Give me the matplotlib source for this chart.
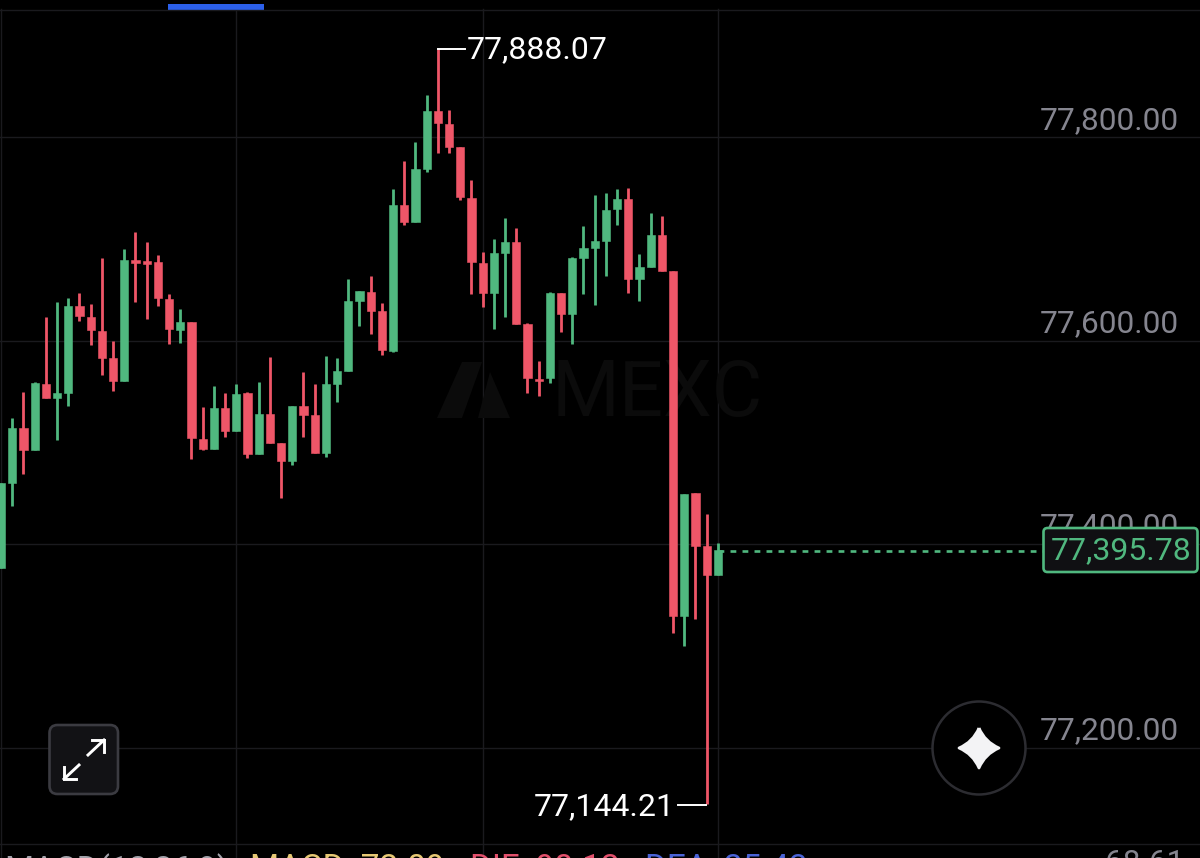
import matplotlib
matplotlib.use('Agg')
import matplotlib.pyplot as plt
from matplotlib.patches import FancyBboxPatch, Circle, PathPatch, Rectangle, Polygon
from matplotlib.path import Path

plt.rcParams['font.family'] = ['Roboto', 'DejaVu Sans']

opens = [77376.4, 77460.6, 77514.6, 77492.7, 77557.6, 77544.1, 77549.1, 77634.3, 77623.8, 77610.0,
	77582.9, 77560.6, 77679.2, 77678.9, 77677.9, 77641.2, 77611.0, 77618.9, 77503.8, 77493.7,
	77534.0, 77511.7, 77549.1, 77489.1, 77528.4, 77499.6, 77481.6, 77536.0, 77527.1, 77489.5,
	77557.9, 77570.1, 77639.5, 77648.4, 77629.7, 77590.4, 77733.6, 77717.2, 77768.7, 77826.3,
	77813.6, 77790.4, 77740.8, 77676.9, 77646.8, 77686.7, 77697.2, 77616.3, 77562.5, 77563.2,
	77646.8, 77626.2, 77681.5, 77691.0, 77698.2, 77729.4, 77739.5, 77661.2, 77673.0, 77704.1,
	77669.0, 77329.5, 77450.1, 77398.0, 77369.8]
highs = [77460.0, 77523.9, 77549.4, 77559.3, 77623.8, 77638.5, 77642.5, 77647.4, 77636.3, 77681.8,
	77599.9, 77690.4, 77706.8, 77697.5, 77684.5, 77646.1, 77631.7, 77618.9, 77535.3, 77555.6,
	77548.8, 77557.6, 77549.7, 77559.6, 77583.9, 77499.6, 77536.3, 77569.4, 77557.6, 77585.1,
	77583.5, 77660.9, 77649.1, 77664.1, 77637.6, 77749.7, 77776.9, 77795.3, 77842.1, 77888.07,
	77827.0, 77790.4, 77757.9, 77687.7, 77700.5, 77721.1, 77710.7, 77617.9, 77579.9, 77647.8,
	77647.1, 77682.0, 77713.0, 77743.8, 77745.7, 77749.4, 77750.0, 77685.1, 77725.5, 77723.1,
	77669.0, 77449.7, 77450.4, 77430.1, 77401.6]
lows = [77376.4, 77437.9, 77469.1, 77492.7, 77544.1, 77502.5, 77536.0, 77619.6, 77596.3, 77566.8,
	77550.7, 77560.6, 77638.2, 77621.2, 77634.0, 77597.2, 77597.9, 77483.9, 77492.7, 77493.7,
	77505.8, 77511.7, 77485.1, 77489.1, 77499.6, 77445.8, 77477.7, 77505.2, 77489.5, 77485.5,
	77540.2, 77570.1, 77614.3, 77606.8, 77585.8, 77589.4, 77714.3, 77717.2, 77766.4, 77785.0,
	77784.5, 77738.5, 77645.8, 77633.6, 77611.4, 77623.8, 77616.6, 77548.5, 77545.8, 77558.9,
	77608.4, 77596.6, 77645.8, 77635.6, 77664.1, 77714.0, 77647.4, 77638.9, 77673.0, 77669.0,
	77313.1, 77300.0, 77326.5, 77144.21, 77369.8]
closes = [77460.0, 77514.6, 77492.7, 77558.3, 77544.1, 77548.8, 77634.3, 77624.5, 77610.4, 77583.2,
	77560.6, 77679.2, 77676.3, 77675.9, 77641.9, 77611.7, 77618.6, 77504.2, 77493.4, 77534.0,
	77511.4, 77548.1, 77488.8, 77528.4, 77499.6, 77482.2, 77536.3, 77526.8, 77489.5, 77557.6,
	77570.1, 77639.5, 77648.8, 77629.7, 77590.8, 77733.6, 77716.6, 77768.7, 77826.3, 77814.0,
	77790.4, 77741.2, 77677.3, 77646.8, 77686.1, 77697.2, 77616.6, 77563.2, 77560.6, 77646.8,
	77626.2, 77681.5, 77691.0, 77698.2, 77729.0, 77739.5, 77661.2, 77673.0, 77704.1, 77669.0,
	77329.5, 77449.7, 77398.6, 77370.1, 77394.4]

price_ticks = [77800, 77600, 77400, 77200]
grid_candles = [0, 21, 43, 64]
high_label = '77,888.07'
low_label = '77,144.21'
last_label = '77,395.78'

GREEN = '#50b87f'
RED = '#ef5668'
GRID = '#1a1a1e'
GRAY = '#85858f'

fig = plt.figure(figsize=(12, 8.58), dpi=100, facecolor='black')
ax = fig.add_axes([0, 0, 1, 1], facecolor='black')
ax.set_xlim(-0.098, 107.05)
ax.set_ylim(77091.5, 77935.2)
ax.axis('off')

# grid
for p in price_ticks:
	ax.axhline(p, color=GRID, lw=1, zorder=1)
for c in grid_candles:
	ax.axvline(c, ymax=0.9895, color=GRID, lw=1, zorder=1)

# watermark
ax.text(58.6, 77547, 'MEXC', color='#0b0b0b', fontsize=56, ha='center', va='center', zorder=1)

# price labels
for p in price_ticks:
	ax.text(105.2, p + 17, f'{p:,.2f}', color=GRAY, fontsize=22.8, ha='right', va='center', zorder=2)

# candles
for i in range(len(opens)):
	col = GREEN if closes[i] >= opens[i] else RED
	ax.vlines(i, lows[i], highs[i], color=col, lw=2.0, zorder=3)
	ax.bar(i, closes[i] - opens[i], bottom=opens[i], width=0.74, color=col, edgecolor=col, lw=0.4, zorder=4)

# last price dash line
last_x = len(opens) - 1
ax.plot([last_x, 93], [closes[-1] - 1.5, closes[-1] - 1.5], color=GREEN, lw=1.9, linestyle=(0, (2.2, 2.35)), zorder=2)

# overlay in screen pixels for the app buttons
ui = fig.add_axes([0, 0, 1, 1], facecolor='none')
ui.set_xlim(0, 1200)
ui.set_ylim(858, 0)
ui.axis('off')

ui.plot([0, 1200], [9.5, 9.5], color=GRID, lw=1)
ui.plot([0, 1200], [844, 844], color=GRID, lw=1)
ui.add_patch(Rectangle((168, 4), 96, 6, color='#2c60ea', lw=0))

# watermark logo
ui.add_patch(Polygon([(437, 418), (462, 362), (482, 362), (462, 418)], fc='#0b0b0b', lw=0))
ui.add_patch(Polygon([(478, 418), (490, 372), (510, 418)], fc='#0b0b0b', lw=0))

# high / low markers
ui.plot([438, 465], [48.5, 48.5], color='white', lw=1.4)
ui.text(467, 49.5, high_label, color='white', fontsize=23, va='center', ha='left')
ui.plot([678, 706], [804.5, 804.5], color='white', lw=1.4)
ui.text(675, 806.5, low_label, color='white', fontsize=23, va='center', ha='right')

# last price box
ui.add_patch(FancyBboxPatch((1043.5, 528), 154, 44, boxstyle='round,pad=0,rounding_size=4', fc='#101013', ec=GREEN, lw=1.9, zorder=5))
ui.text(1121, 551, last_label, color=GREEN, fontsize=23, ha='center', va='center', zorder=6)

# expand button
ui.add_patch(FancyBboxPatch((49.5, 725), 68.5, 69, boxstyle='round,pad=0,rounding_size=8', fc='#121215', ec='#3b3b41', lw=1.9))
for xs, ys in [([88, 104], [755, 740]), ([92, 104, 104], [740, 740, 752]), ([79, 64], [765, 779]), ([64, 64, 76], [767, 779, 779])]:
	ui.plot(xs, ys, color='white', lw=2.1, solid_joinstyle='miter')

# star button
ui.add_patch(Circle((979, 748), 46.5, fc='black', ec='#2c2c31', lw=1.8))
cx, cy, r, k = 979, 748, 20, 6
star = Path([(cx, cy - r), (cx + k, cy - k), (cx + r, cy), (cx + k, cy + k), (cx, cy + r), (cx - k, cy + k), (cx - r, cy), (cx - k, cy - k), (cx, cy - r)],
	[Path.MOVETO] + [Path.CURVE3] * 8)
ui.add_patch(PathPatch(star, fc='#f3f3f5', ec='#f3f3f5', lw=2, joinstyle='round'))

# MACD line cut by the bottom edge
for x, y, s, col in [(4, 853, 'MACD(12,26,9)', '#a3a3ab'), (250, 853, 'MACD: 72.09', '#e6c874'), (470, 853, 'DIF: 98.12', '#e2506c'), (645, 853, 'DEA: 25.43', '#4a63d6'), (1105, 849, '68.61', GRAY)]:
	ui.text(x, y, s, color=col, fontsize=24 if x < 1000 else 22.8, va='top', ha='left')

fig.savefig('out.png', dpi=100, facecolor='black')
